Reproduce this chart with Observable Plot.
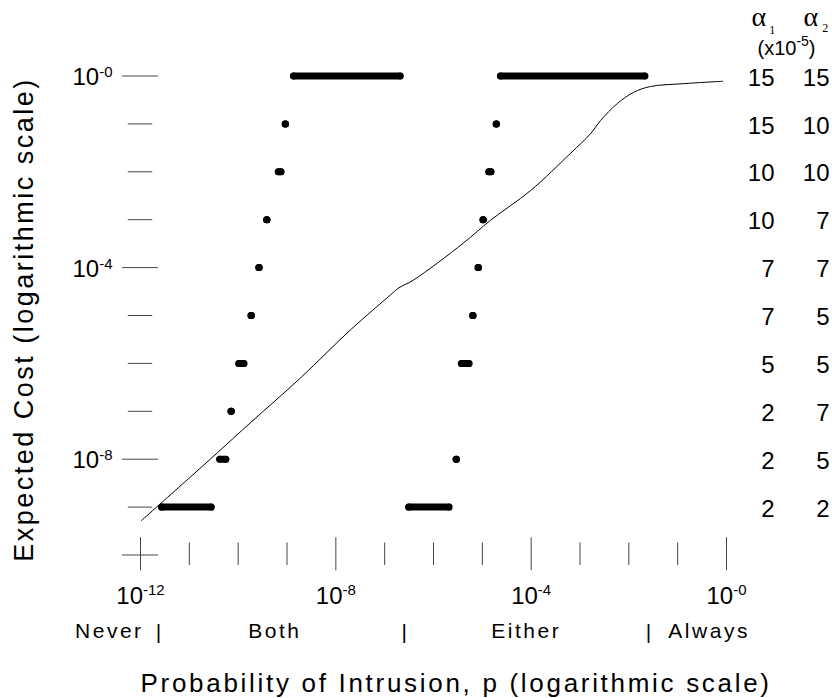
<!DOCTYPE html>
<html><head><meta charset="utf-8">
<script src="https://cdn.jsdelivr.net/npm/d3@7"></script>
<script src="https://cdn.jsdelivr.net/npm/@observablehq/plot@0.6"></script>
<style>
html,body{margin:0;padding:0;background:#fff;}
</style></head><body><div id="chart"></div>
<script>
// ---- data (log10 values) ----
const rowCostExp = [0, -1, -2, -3, -4, -5, -6, -7, -8, -9];
const alpha1 = [15, 15, 10, 10, 7, 7, 5, 2, 2, 2];
const alpha2 = [15, 10, 10, 7, 7, 5, 5, 7, 5, 2];
const bothLo = [-8.86, -9.03, -9.17, -9.41, -9.57, -9.73, -9.98, -10.14, -10.37, -11.56];
const bothHi = [-6.68, -9.03, -9.12, -9.41, -9.57, -9.73, -9.88, -10.14, -10.25, -10.55];
const eitherLo = [-4.62, -4.71, -4.86, -4.98, -5.08, -5.19, -5.42, null, -5.53, -6.50];
const eitherHi = [-1.67, -4.71, -4.82, -4.98, -5.08, -5.19, -5.27, null, -5.53, -5.68];
const curveLogP = [-11.98, -11.02, -10.42, -9.75, -8.72, -7.70, -6.88, -6.72, -6.41, -5.39, -4.83, -4.01, -3.19, -2.78, -2.58, -2.23, -1.90, -1.56, -0.88, -0.08];
const curveLogCost = [-9.28, -8.41, -7.86, -7.24, -6.30, -5.30, -4.57, -4.43, -4.26, -3.49, -3.01, -2.39, -1.61, -1.20, -0.93, -0.57, -0.34, -0.22, -0.16, -0.11];
const xTickExp = [-12, -11, -10, -9, -8, -7, -6, -5, -4, -3, -2, -1, 0];
const xMajorExp = [-12, -8, -4, 0];
const xTickLabels = ["10^-12", "10^-8", "10^-4", "10^-0"];
const yTickExp = [0, -1, -2, -3, -4, -5, -6, -7, -8, -9, -10];
const yMajorExp = [0, -4, -8, -10];
const yLabelExp = [0, -4, -8];
const yTickLabels = ["10^-0", "10^-4", "10^-8"];
const regionBounds = [-11.63, -6.6, -1.6];
const regionNames = ["Never", "Both", "Either", "Always"];
const regionPos = [-11.63, -9.25, -4.1, -1.6];

// ---- tables ----
const segs = [];
rowCostExp.forEach((c, i) => {
  segs.push({cost: 10 ** c, lo: 10 ** bothLo[i], hi: 10 ** bothHi[i]});
  if (eitherLo[i] != null) segs.push({cost: 10 ** c, lo: 10 ** eitherLo[i], hi: 10 ** eitherHi[i]});
});
const ends = segs.flatMap(s => [{cost: s.cost, p: s.lo}, {cost: s.cost, p: s.hi}]);
const curve = curveLogP.map((p, i) => ({p: 10 ** p, cost: 10 ** curveLogCost[i]}));
const rows = rowCostExp.map((c, i) => ({cost: 10 ** c, a1: alpha1[i], a2: alpha2[i]}));
const regions = regionNames.map((n, i) => ({name: n, p: 10 ** regionPos[i]}));

const sans = "'Liberation Sans', Arial, sans-serif";
const serif = "'Liberation Serif', 'Times New Roman', serif";
const M = "middle";

const chart = Plot.plot({
  width: 832, height: 698,
  marginLeft: 140, marginRight: 106, marginTop: 75.5, marginBottom: 143.5,
  x: {type: "log", domain: [1e-12, 1], axis: null},
  y: {type: "log", domain: [1e-10, 1], axis: null},
  style: {fontFamily: sans, background: "white", color: "black"},
  marks: [
    Plot.ruleY(yTickExp, {
      y: d => 10 ** d,
      x1: d => 10 ** (-12 - (yMajorExp.includes(d) ? 0.37 : 0.25)),
      x2: d => 10 ** (-12 + (yMajorExp.includes(d) ? 0.37 : 0.25)),
      stroke: "#444", strokeWidth: 1
    }),
    Plot.ruleX(xTickExp, {
      x: d => 10 ** d,
      y1: d => 10 ** (-10 + (xMajorExp.includes(d) ? 0.36 : 0.25)),
      y2: d => 10 ** (-10 - (xMajorExp.includes(d) ? 0.33 : 0.22)),
      stroke: "#444", strokeWidth: 1
    }),
    Plot.line(curve, {x: "p", y: "cost", curve: "catmull-rom", stroke: "black", strokeWidth: 1}),
    Plot.ruleY(segs, {y: "cost", x1: "lo", x2: "hi", stroke: "black", strokeWidth: 7, strokeLinecap: "round"}),
    Plot.dot(ends, {x: "p", y: "cost", r: 3.5, fill: "black", stroke: null}),
    Plot.text(yLabelExp, {x: 1e-12, y: d => 10 ** d, text: (d, i) => yTickLabels[i], lineAnchor: M,
      textAnchor: "end", dx: -28, dy: 1.5, fontSize: 24, ariaDescription: "ylabels"}),
    Plot.text(xMajorExp, {x: d => 10 ** d, text: (d, i) => xTickLabels[i], frameAnchor: "bottom", lineAnchor: M,
      textAnchor: "middle", dy: 41, fontSize: 24, ariaDescription: "xlabels"}),
    Plot.text(regions.slice(0, 1), {x: "p", text: "name", frameAnchor: "bottom", lineAnchor: M,
      textAnchor: "end", dx: -15, dy: 75.8, fontSize: 21, ariaDescription: "regions"}),
    Plot.text(regions.slice(1, 3), {x: "p", text: "name", frameAnchor: "bottom", lineAnchor: M,
      textAnchor: "middle", dy: 75.8, fontSize: 21, ariaDescription: "regions"}),
    Plot.text(regions.slice(3), {x: "p", text: "name", frameAnchor: "bottom", lineAnchor: M,
      textAnchor: "start", dx: 20, dy: 75.8, fontSize: 21, ariaDescription: "regions"}),
    Plot.text(regionBounds, {x: d => 10 ** d, text: () => "|", frameAnchor: "bottom", lineAnchor: M,
      textAnchor: "middle", dy: 77, fontSize: 21}),
    Plot.text(rows, {y: "cost", text: d => String(d.a1), frameAnchor: "right", textAnchor: "end", lineAnchor: M,
      dx: 48, dy: 2, fontSize: 24}),
    Plot.text(rows, {y: "cost", text: d => String(d.a2), frameAnchor: "right", textAnchor: "end", lineAnchor: M,
      dx: 103, dy: 2, fontSize: 24}),
    Plot.text(["α_1"], {frameAnchor: "top-right", textAnchor: "start", lineAnchor: M, dx: 25, dy: -59,
      fontSize: 28, fontFamily: serif, text: d => d, ariaDescription: "h1"}),
    Plot.text(["α_2"], {frameAnchor: "top-right", textAnchor: "start", lineAnchor: M, dx: 77, dy: -59,
      fontSize: 28, fontFamily: serif, text: d => d, ariaDescription: "h2"}),
    Plot.text(["(x10^-5^)"], {frameAnchor: "top-right", textAnchor: "start", lineAnchor: M, dx: 31, dy: -27,
      fontSize: 20, text: d => d, ariaDescription: "h3"}),
    Plot.text(["Probability of Intrusion, p (logarithmic scale)"], {frameAnchor: "bottom-left", lineAnchor: M,
      textAnchor: "start", dx: 0, dy: 129, fontSize: 26, text: d => d, ariaDescription: "xtitle"}),
    Plot.text(["Expected Cost (logarithmic scale)"], {frameAnchor: "left", textAnchor: "middle", lineAnchor: M,
      rotate: -90, dx: -116, dy: 4, fontSize: 27, text: d => d, ariaDescription: "ytitle"})
  ]
});
document.getElementById("chart").appendChild(chart);

function richify(label, size, shift, dx) {
  d3.select(chart).selectAll(`g[aria-description="${label}"] text`).each(function () {
    const s = this.textContent;
    const m = s.match(/^([^\^_]*)([\^_])([^\^_]*)(?:[\^_](.*))?$/);
    if (!m) return;
    const [, base, kind, script, rest] = m;
    const t = d3.select(this);
    t.text(base);
    const d = kind === "^" ? -shift : shift;
    t.append("tspan").attr("font-size", size).attr("dy", d).attr("dx", dx || 0).text(script);
    if (rest) t.append("tspan").attr("dy", -d).text(rest);
  });
}
richify("ylabels", 15, 8, 0);
richify("xlabels", 15, 8.5, 0);
richify("h1", 12, 8, 3);
richify("h2", 12, 6, 4);
richify("h3", 14, 9, 0);
d3.select(chart).selectAll('g[aria-description="regions"]').attr("letter-spacing", "2.5px");
d3.select(chart).selectAll('g[aria-description="xtitle"]').attr("letter-spacing", "2.7px");
d3.select(chart).selectAll('g[aria-description="ytitle"]').attr("letter-spacing", "2.5px");
</script></body></html>
